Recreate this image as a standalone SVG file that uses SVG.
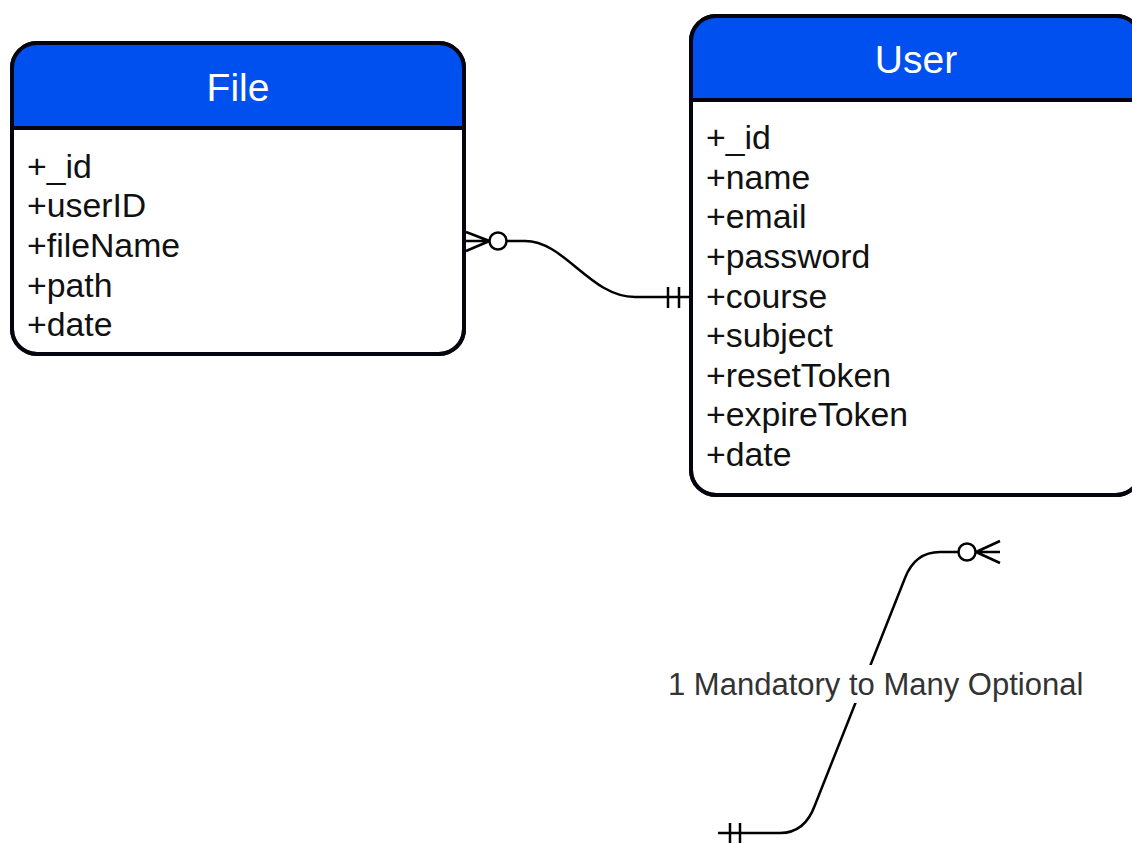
<svg xmlns="http://www.w3.org/2000/svg" width="1132" height="843" viewBox="0 0 1132 843">
  <style>
    .box { fill: #ffffff; stroke: #05050f; stroke-width: 4; }
    .head { fill: #0050ef; }
    .sep { stroke: #05050f; stroke-width: 4; }
    .title { font-family: "Liberation Sans", Arial, sans-serif; font-size: 39px; fill: #ffffff; text-anchor: middle; }
    .attr { font-family: "Liberation Sans", Arial, sans-serif; font-size: 33.8px; fill: #111111; }
    .edge { fill: none; stroke: #000000; stroke-width: 2.5; }
    .label { font-family: "Liberation Sans", Arial, sans-serif; font-size: 31px; fill: #333333; }
  </style>
  <defs>
    <clipPath id="fileClip"><rect x="12" y="43" width="452" height="311" rx="25"/></clipPath>
    <clipPath id="userClip"><rect x="691" y="16" width="450" height="479" rx="25"/></clipPath>
  </defs>
  <rect width="1132" height="843" fill="#ffffff"/>

  <!-- File entity -->
  <g id="file">
    <rect class="box" x="12" y="43" width="452" height="311" rx="25"/>
    <rect class="head" x="12" y="43" width="452" height="85" clip-path="url(#fileClip)"/>
    <rect x="12" y="43" width="452" height="311" rx="25" fill="none" stroke="#05050f" stroke-width="4"/>
    <line class="sep" x1="12" y1="128" x2="464" y2="128"/>
    <text class="title" x="238" y="101">File</text>
    <text class="attr" x="27" y="177.5">+_id</text>
    <text class="attr" x="27" y="217">+userID</text>
    <text class="attr" x="27" y="257">+fileName</text>
    <text class="attr" x="27" y="296.5">+path</text>
    <text class="attr" x="27" y="336">+date</text>
  </g>

  <!-- User entity -->
  <g id="user">
    <rect class="box" x="691" y="16" width="450" height="479" rx="25"/>
    <rect class="head" x="691" y="16" width="450" height="84" clip-path="url(#userClip)"/>
    <rect x="691" y="16" width="450" height="479" rx="25" fill="none" stroke="#05050f" stroke-width="4"/>
    <line class="sep" x1="691" y1="100" x2="1141" y2="100"/>
    <text class="title" x="916" y="73">User</text>
    <text class="attr" x="706" y="149">+_id</text>
    <text class="attr" x="706" y="188.6">+name</text>
    <text class="attr" x="706" y="228.3">+email</text>
    <text class="attr" x="706" y="267.9">+password</text>
    <text class="attr" x="706" y="307.5">+course</text>
    <text class="attr" x="706" y="347.1">+subject</text>
    <text class="attr" x="706" y="386.8">+resetToken</text>
    <text class="attr" x="706" y="426.4">+expireToken</text>
    <text class="attr" x="706" y="466">+date</text>
  </g>

  <!-- Relationships -->
  <g id="connectors">
    <!-- File (many, optional) to User (one, mandatory) -->
    <g id="file-user">
      <path class="edge" d="M 507 241 L 525 241 C 565 241 590 297 635 297 L 690 297"/>
      <circle class="edge" cx="498" cy="241" r="8.5" fill="#ffffff"/>
      <path class="edge" d="M 466 232 L 489.5 241 M 466 241 L 489.5 241 M 466 251 L 489.5 241"/>
      <path class="edge" d="M 668 287 L 668 308 M 679 287 L 679 308"/>
    </g>
    <!-- Legend edge -->
    <g id="legend-edge">
      <path class="edge" d="M 718 833 L 780 833 Q 805 833 815 805 L 905 578 Q 915 552 940 552 L 958.5 552"/>
      <circle class="edge" cx="967" cy="552" r="8.5" fill="#ffffff"/>
      <path class="edge" d="M 976 552 L 1000 541 M 976 552 L 1000 552 M 976 552 L 1000 563"/>
      <path class="edge" d="M 730 823 L 730 843 M 740 823 L 740 843"/>
      <rect x="666" y="665" width="418" height="38" fill="#ffffff"/>
      <text class="label" x="668" y="695">1 Mandatory to Many Optional</text>
    </g>
  </g>
</svg>
